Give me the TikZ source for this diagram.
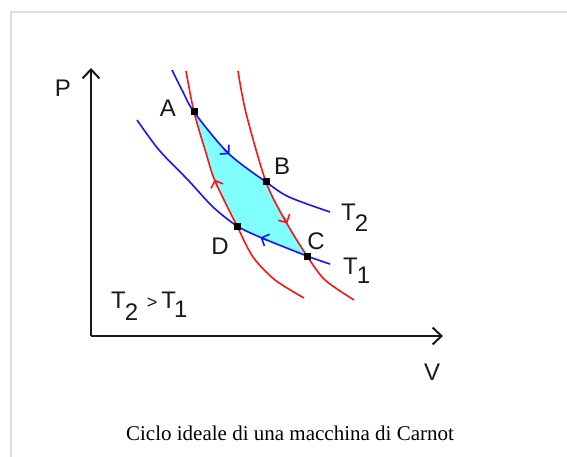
\documentclass[tikz,border=0pt]{standalone}
\usepackage{fontspec}
\setmainfont{Liberation Serif}
\newfontfamily\lblfont{Liberation Sans}
\usetikzlibrary{arrows.meta}
\definecolor{frm}{RGB}{221,221,221}
\definecolor{isoblue}{RGB}{20,20,255}
\definecolor{adred}{RGB}{255,20,20}
\definecolor{cyc}{RGB}{128,255,255}
\definecolor{axk}{RGB}{25,25,25}
\tikzset{
  lbl/.style={font=\lblfont\fontsize{24}{24}\selectfont, inner sep=0pt, text=axk},
  dotmark/.style={rectangle, fill=black, inner sep=0pt, minimum size=7pt},
  axisline/.style={axk, line width=2.2pt, -{Straight Barb[length=9pt,width=17pt,line width=2pt]}},
  isot/.style={isoblue, line width=1.6pt},
  adiab/.style={adred, line width=1.6pt},
  flowtip/.style={line width=1.6pt, -{Straight Barb[length=6pt,width=13pt]}},
}
\begin{document}
\begin{tikzpicture}[x=1pt, y=-1pt]
\useasboundingbox (0,0) rectangle (567,457);
% frame
\draw[frm, line width=2pt] (11,458) -- (11,12) -- (568,12);
% key points
\coordinate (pA) at (194,112);
\coordinate (pB) at (266,182);
\coordinate (pC) at (307,256);
\coordinate (pD) at (237,226);
\coordinate (O) at (91,336);
\coordinate (yend) at (91,68);
\coordinate (xend) at (443,336);
% cycle fill
\fill[cyc] plot[smooth] coordinates {(pA) (228,153) (pB)}
  -- plot[smooth] coordinates {(pB) (286,222) (pC)}
  -- plot[smooth] coordinates {(pC) (262,238) (pD)}
  -- plot[smooth] coordinates {(pD) (215,181) (pA)} -- cycle;
% isotherms
\draw[isot] plot[smooth] coordinates {(172,70) (183,92) (pA) (228,153) (pB) (289,197) (330,212)};
\draw[isot] plot[smooth] coordinates {(137,120) (159,150) (188,180) (213,207) (pD) (262,238) (pC) (330,264)};
% adiabats
\draw[adiab] plot[smooth] coordinates {(186,71) (pA) (206,153) (215,181) (pD) (253,257) (275,280) (304,298)};
\draw[adiab] plot[smooth] coordinates {(238,71) (246,113) (pB) (286,222) (pC) (325,280) (354,300)};
% flow arrows
\draw[flowtip, isoblue] (224,149) -- (229.5,154.2);
\draw[flowtip, adred] (284,217.5) -- (287.2,223.5);
\draw[flowtip, isoblue] (267,240.2) -- (260.5,237.4);
\draw[flowtip, adred] (217,186) -- (214.6,179.5);
% axes
\draw[axisline] (O) -- (yend);
\draw[axisline] (O) -- (xend);
% points
\node[dotmark] (A) at (pA) {};
\node[dotmark] (B) at (pB) {};
\node[dotmark] (C) at (pC) {};
\node[dotmark] (D) at (pD) {};
% labels
\node[lbl] (lP) at (63,88) {P};
\node[lbl] (lV) at (432,372) {V};
\node[lbl] (lA) at (168,108) {A};
\node[lbl] (lB) at (282,166) {B};
\node[lbl] (lC) at (316,241) {C};
\node[lbl] (lD) at (220,246) {D};
\node[lbl, anchor=base west] (lT2) at (341,220) {T\kern-1pt\raisebox{-11pt}{2}};
\node[lbl, anchor=base west] (lT1) at (343,274) {T\kern-1pt\raisebox{-9pt}{1}};
\node[lbl, anchor=base west] (lrel) at (111,308) {T\kern-1pt\raisebox{-12pt}{2} \kern2pt{\fontsize{18}{18}\selectfont >}\kern4pt T\kern-2pt\raisebox{-9pt}{1}};
% caption
\node[font=\fontsize{21}{21}\selectfont, inner sep=0pt] (cap) at (290,433) {Ciclo ideale di una macchina di Carnot};
\end{tikzpicture}
\end{document}
